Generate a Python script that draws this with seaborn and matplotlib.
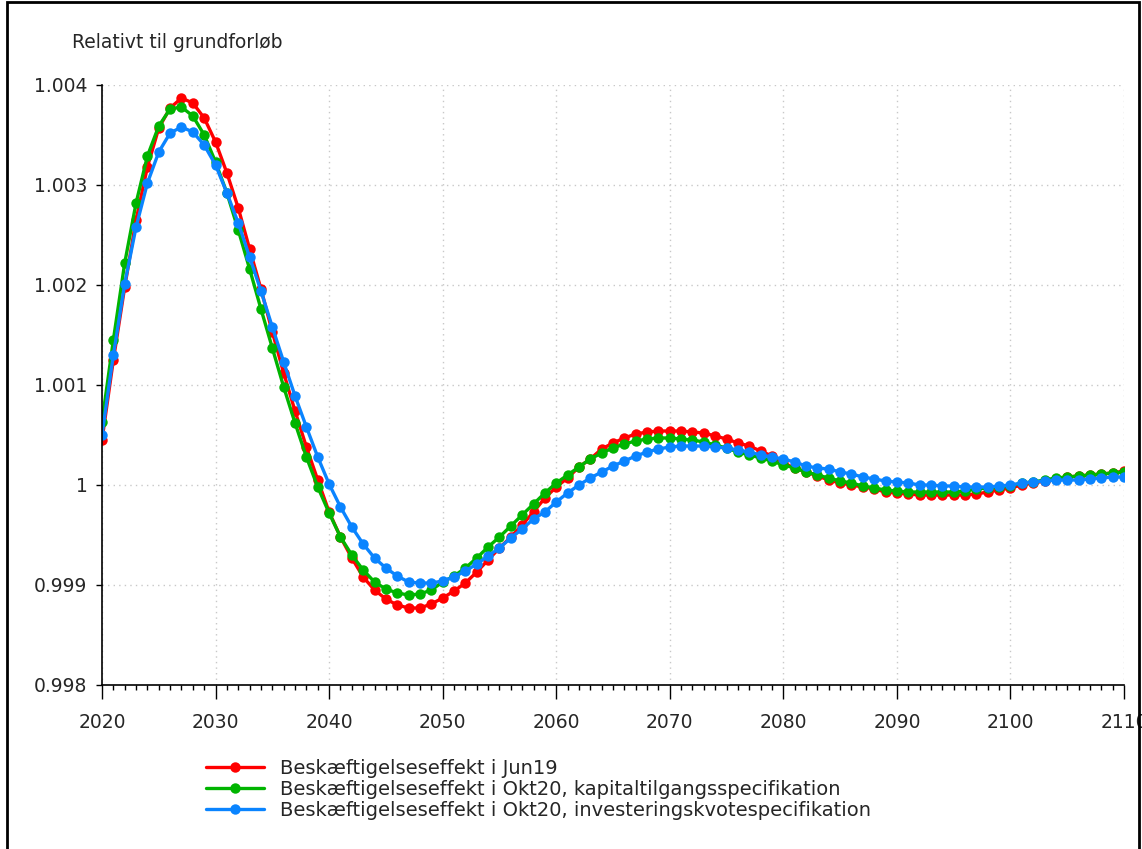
import matplotlib
matplotlib.use("Agg")
import matplotlib.pyplot as plt
from matplotlib.patches import Rectangle
from matplotlib.ticker import MultipleLocator
import seaborn as sns
import pandas as pd

years = list(range(2020, 2111))

jun19 = [
    1.00045, 1.00125, 1.00198, 1.00265, 1.00318, 1.00357, 1.00377, 1.00387, 1.00382, 1.00367,
    1.00343, 1.00312, 1.00277, 1.00236, 1.00196, 1.00153, 1.00112, 1.00074, 1.00038, 1.00005,
    0.99973, 0.99948, 0.99927, 0.99908, 0.99895, 0.99886, 0.99880, 0.99877, 0.99877, 0.99881,
    0.99887, 0.99894, 0.99902, 0.99913, 0.99925, 0.99937, 0.99948, 0.99960, 0.99973, 0.99987,
    0.99998, 1.00007, 1.00018, 1.00026, 1.00036, 1.00042, 1.00047, 1.00051, 1.00053, 1.00054,
    1.00054, 1.00054, 1.00053, 1.00052, 1.00049, 1.00046, 1.00042, 1.00039, 1.00034, 1.00029,
    1.00022, 1.00017, 1.00013, 1.00009, 1.00005, 1.00002, 1.00000, 0.99998, 0.99996, 0.99993,
    0.99992, 0.99991, 0.99990, 0.99990, 0.99990, 0.99990, 0.99990, 0.99991, 0.99993, 0.99995,
    0.99997, 1.00000, 1.00002, 1.00004, 1.00006, 1.00008, 1.00009, 1.00010, 1.00011, 1.00012,
    1.00014,
]

okt20_kap = [
    1.00063, 1.00145, 1.00222, 1.00282, 1.00329, 1.00359, 1.00376, 1.00378, 1.00369, 1.00350,
    1.00323, 1.00292, 1.00255, 1.00216, 1.00176, 1.00137, 1.00098, 1.00062, 1.00028, 0.99998,
    0.99972, 0.99948, 0.99930, 0.99915, 0.99903, 0.99896, 0.99892, 0.99890, 0.99891, 0.99895,
    0.99903, 0.99909, 0.99917, 0.99927, 0.99938, 0.99948, 0.99959, 0.99970, 0.99981, 0.99992,
    1.00002, 1.00010, 1.00018, 1.00026, 1.00032, 1.00037, 1.00041, 1.00044, 1.00046, 1.00047,
    1.00047, 1.00046, 1.00045, 1.00043, 1.00040, 1.00037, 1.00033, 1.00030, 1.00027, 1.00024,
    1.00020, 1.00017, 1.00013, 1.00010, 1.00007, 1.00004, 1.00002, 0.99999, 0.99997, 0.99995,
    0.99994, 0.99993, 0.99993, 0.99993, 0.99993, 0.99993, 0.99994, 0.99996, 0.99997, 0.99998,
    0.99999, 1.00002, 1.00003, 1.00005, 1.00007, 1.00008, 1.00009, 1.00010, 1.00011, 1.00012,
    1.00013,
]

okt20_inv = [
    1.00050, 1.00130, 1.00201, 1.00258, 1.00302, 1.00333, 1.00352, 1.00358, 1.00353, 1.00340,
    1.00320, 1.00292, 1.00262, 1.00228, 1.00194, 1.00158, 1.00123, 1.00089, 1.00058, 1.00028,
    1.00001, 0.99978, 0.99958, 0.99941, 0.99927, 0.99917, 0.99909, 0.99903, 0.99902, 0.99902,
    0.99904, 0.99908, 0.99914, 0.99921, 0.99929, 0.99937, 0.99947, 0.99956, 0.99966, 0.99973,
    0.99983, 0.99992, 1.00000, 1.00007, 1.00013, 1.00019, 1.00024, 1.00029, 1.00033, 1.00036,
    1.00038, 1.00039, 1.00039, 1.00039, 1.00038, 1.00037, 1.00035, 1.00033, 1.00030, 1.00028,
    1.00026, 1.00023, 1.00019, 1.00017, 1.00016, 1.00013, 1.00011, 1.00008, 1.00006, 1.00004,
    1.00003, 1.00002, 1.00000, 1.00000, 0.99999, 0.99999, 0.99998, 0.99998, 0.99998, 0.99999,
    1.00000, 1.00002, 1.00003, 1.00004, 1.00005, 1.00005, 1.00005, 1.00006, 1.00007, 1.00008,
    1.00008,
]

labels = [
    "Beskæftigelseseffekt i Jun19",
    "Beskæftigelseseffekt i Okt20, kapitaltilgangsspecifikation",
    "Beskæftigelseseffekt i Okt20, investeringskvotespecifikation",
]
colors = ["#ff0000", "#00b400", "#0a84ff"]

df = pd.concat([
    pd.DataFrame({"year": years, "value": vals, "serie": lab})
    for vals, lab in zip([jun19, okt20_kap, okt20_inv], labels)
])

sns.set_style("white")
plt.rcParams['font.family'] = ['DejaVu Sans']

fig = plt.figure(figsize=(11.42, 8.49), dpi=100)
ax = fig.add_axes([102 / 1142, 1 - 685 / 849, (1124 - 102) / 1142, 600 / 849])

sns.lineplot(data=df, x="year", y="value", hue="serie", hue_order=labels,
             palette=colors, marker="o", markersize=7.5, markeredgewidth=0,
             linewidth=2.4, ax=ax, legend=True)

ax.set_xlim(2020, 2110)
ax.set_ylim(0.998, 1.004)
ax.xaxis.set_major_locator(MultipleLocator(10))
ax.xaxis.set_minor_locator(MultipleLocator(1))
ax.yaxis.set_major_locator(MultipleLocator(0.001))
ax.yaxis.set_major_formatter(plt.FuncFormatter(lambda v, p: "1" if abs(v - 1) < 1e-9 else f"{v:.3f}"))
ax.grid(True, which="major", color="#c8c8c8", linestyle=(0, (1, 3)), linewidth=1)
ax.set_xlabel("")
ax.set_ylabel("")
for s in ["top", "right"]:
    ax.spines[s].set_visible(False)
for s in ["left", "bottom"]:
    ax.spines[s].set_color("black")
    ax.spines[s].set_linewidth(1.2)
ax.tick_params(axis="x", which="major", direction="out", length=10, width=1,
               color="black", labelsize=13.5, pad=10, bottom=True)
ax.tick_params(axis="x", which="minor", direction="out", length=3.5, width=1,
               color="black", bottom=True)
ax.tick_params(axis="y", which="major", direction="out", length=4.5, width=1,
               color="black", labelsize=13.5, pad=6, left=True)
for lbl in ax.get_xticklabels():
    lbl.set_clip_on(False)

fig.text(72 / 1142, 1 - 42 / 849, "Relativt til grundforløb", fontsize=13.5,
         va="center", ha="left")

handles, _ = ax.get_legend_handles_labels()
ax.get_legend().remove()
fig.legend(handles, labels, loc="upper left", bbox_to_anchor=(192 / 1142, 1 - 745 / 849),
           frameon=False, fontsize=14, handlelength=3.0, handletextpad=0.85,
           labelspacing=0.12, borderpad=0.2)

fig.add_artist(Rectangle((7 / 1142, -0.01), (1139 - 7) / 1142, 1.01 - 2 / 849,
                         transform=fig.transFigure, fill=False, edgecolor="black",
                         linewidth=2))

fig.savefig("out.png", dpi=100)
